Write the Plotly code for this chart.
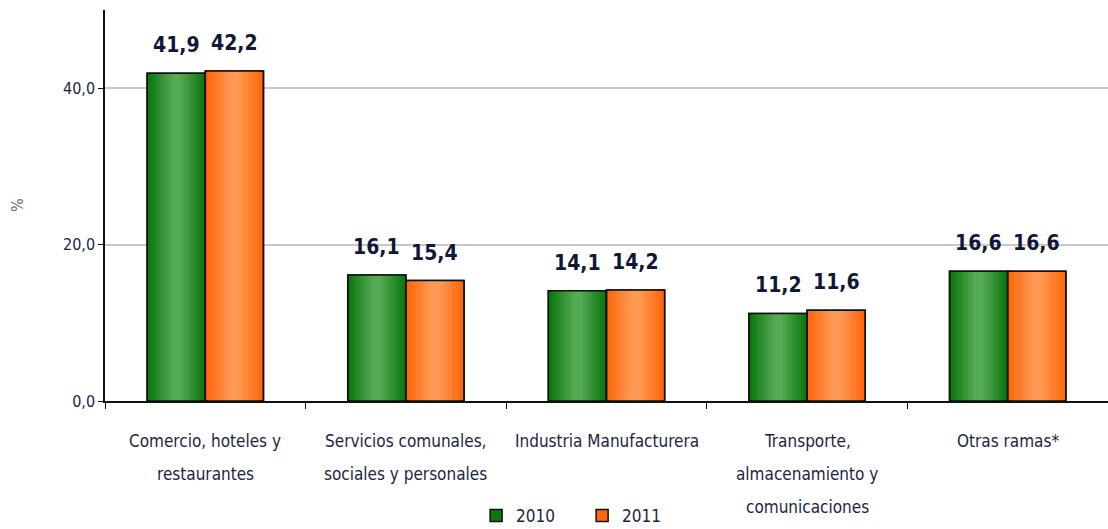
import plotly.graph_objects as go

categories = [
    "Comercio, hoteles y<br>restaurantes",
    "Servicios comunales,<br>sociales y personales",
    "Industria Manufacturera",
    "Transporte,<br>almacenamiento y<br>comunicaciones",
    "Otras ramas*",
]
series_names = ["2010", "2011"]
values_2010 = [41.9, 16.1, 14.1, 11.2, 16.6]
values_2011 = [42.2, 15.4, 14.2, 11.6, 16.6]
y_ticks = [0, 20, 40]

FONT = "Liberation Sans Narrow, DejaVu Sans Condensed, Arial Narrow, sans-serif"
TEXT_COL = "#1c1f45"

x_idx = list(range(len(categories)))
BW = 0.29
N = 8

def mix(c1, c2, t):
    a = [int(c1[i:i + 2], 16) for i in (1, 3, 5)]
    b = [int(c2[i:i + 2], 16) for i in (1, 3, 5)]
    return "#%02x%02x%02x" % tuple(round(a[j] + (b[j] - a[j]) * t) for j in range(3))

styles = [
    ("#0c780e", "#55aa55", -BW),
    ("#ff670a", "#ff9a55", 0.0),
]

fig = go.Figure()
for name, vals, (dark, light, off) in zip(series_names, [values_2010, values_2011], styles):
    d = BW * 0.42 / N
    for k in range(N + 1):
        w = BW - 2 * k * d
        col = mix(dark, light, k / N)
        fig.add_trace(go.Bar(
            x=x_idx, y=vals, name=name,
            offset=off + k * d, width=w,
            marker=dict(color=col, line=dict(color="#111111", width=1.5 if k == 0 else 0)),
            showlegend=(k == 0), hoverinfo="skip",
        ))
    fig.add_trace(go.Bar(
        x=x_idx, y=vals, name=name, offset=off, width=BW,
        marker=dict(color="rgba(0,0,0,0)", line=dict(color="#111111", width=1.5)),
        showlegend=False, hoverinfo="skip",
    ))

annotations = []
# value labels
for vals, off in [(values_2010, -BW / 2), (values_2011, BW / 2)]:
    for i, v in enumerate(vals):
        annotations.append(dict(
            x=i + off, y=v, xref="x", yref="y", text=f"{v:.1f}".replace(".", ","),
            showarrow=False, yanchor="bottom", yshift=14,
            font=dict(family=FONT, size=21, color="#0f1838", weight="bold"),
        ))
# category labels, one annotation per line
line_y = [441, 474, 507]
for i, cat in enumerate(categories):
    for j, part in enumerate(cat.split("<br>")):
        annotations.append(dict(
            x=i, y=0, xref="x", yref="paper", text=part, showarrow=False,
            yanchor="middle", yshift=401 - line_y[j],
            font=dict(family=FONT, size=17, color=TEXT_COL),
        ))
# y axis title
annotations.append(dict(
    x=0, y=0.5, xref="paper", yref="paper", text="%", showarrow=False,
    xshift=-99, textangle=-90, font=dict(family=FONT, size=16, color="#6a6a7a"),
))

fig.update_layout(
    width=1108, height=529,
    margin=dict(l=105, r=0, t=10, b=128),
    paper_bgcolor="white", plot_bgcolor="white",
    barmode="overlay",
    separators=",.",
    annotations=annotations,
    legend=dict(
        orientation="h", x=0.370, xanchor="left",
        yref="container", y=1 - 516 / 529, yanchor="middle",
        font=dict(family=FONT, size=17, color=TEXT_COL),
        entrywidth=61, entrywidthmode="pixels",
        traceorder="normal",
    ),
    xaxis=dict(
        type="linear", range=[-0.5, len(categories) - 0.5], automargin=False,
        tickmode="array", tickvals=[i - 0.5 for i in range(len(categories) + 1)],
        showticklabels=False, ticks="outside", ticklen=6, tickcolor="#111111",
        showline=True, linecolor="#111111", linewidth=1.5, showgrid=False, zeroline=False,
    ),
    yaxis=dict(
        range=[0, 50], tickvals=y_ticks, tickformat=".1f", automargin=False,
        ticks="outside", ticklen=5, tickcolor="#111111",
        showline=True, linecolor="#111111", linewidth=1.5,
        showgrid=True, gridcolor="#c8c8c8", gridwidth=2, zeroline=False,
        tickfont=dict(family=FONT, size=16, color=TEXT_COL),
    ),
)

fig.write_html("out.html", config={"displayModeBar": False},
               post_script="document.body.style.margin='0';")
